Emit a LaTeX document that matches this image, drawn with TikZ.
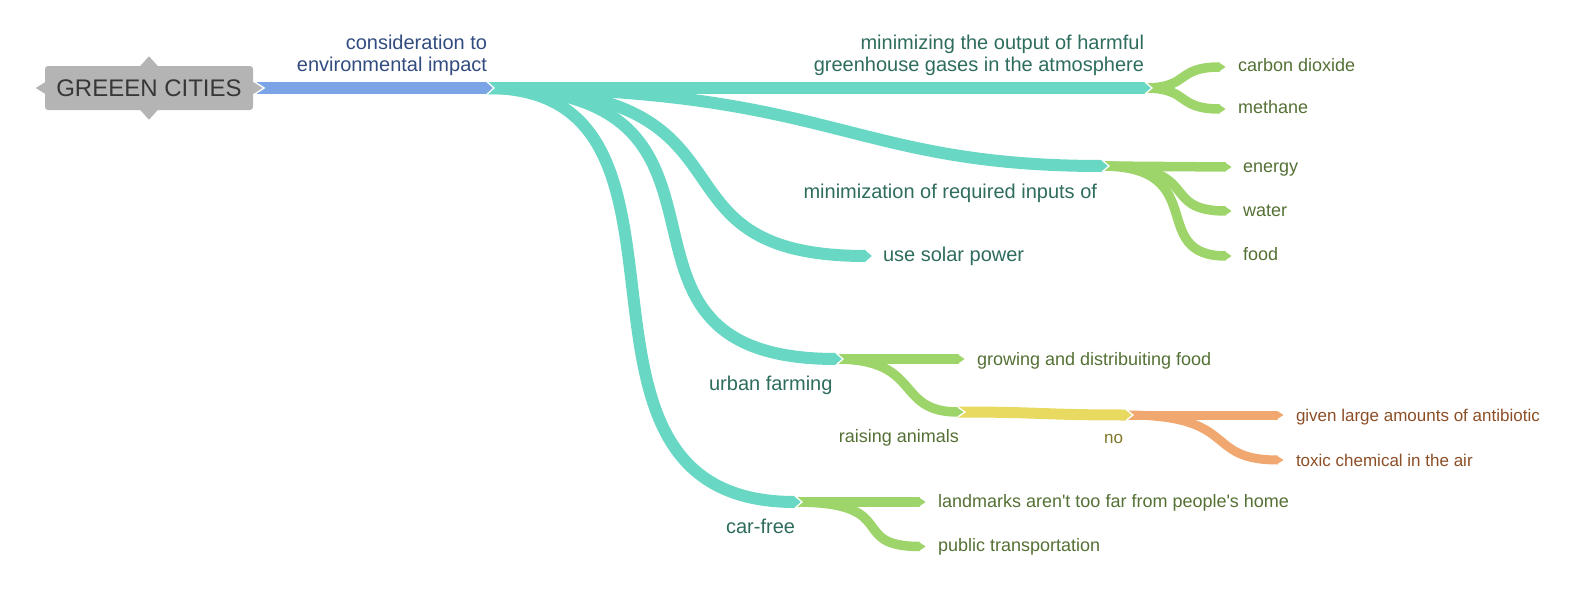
\documentclass[tikz,border=0pt]{standalone}
\usepackage{fontspec}
\setmainfont{Liberation Sans}
\newfontfamily\plainsans{Liberation Sans}
\definecolor{cblue}{RGB}{122,164,230}
\definecolor{cteal}{RGB}{104,216,196}
\definecolor{cgreen}{RGB}{158,213,106}
\definecolor{cyel}{RGB}{232,217,96}
\definecolor{corange}{RGB}{240,168,112}
\definecolor{tblue}{RGB}{50,76,128}
\definecolor{tteal}{RGB}{46,108,94}
\definecolor{tgreen}{RGB}{84,112,52}
\definecolor{tyel}{RGB}{128,118,40}
\definecolor{torange}{RGB}{140,78,38}
\definecolor{rootfill}{RGB}{180,180,180}
\definecolor{roottext}{RGB}{55,55,55}
\newcommand\brtip[3]{%
  \fill[#3] ([shift={(-7,#2/2)}]#1) -- (#1) -- ([shift={(-7,-#2/2)}]#1) -- cycle;
  \draw[white,line width=1.3pt] ([shift={(-7,#2/2)}]#1) -- (#1) -- ([shift={(-7,-#2/2)}]#1);}
\begin{document}
\begin{tikzpicture}[x=1pt,y=-1pt,
  brblue/.style={draw=cblue,line width=12.5pt},
  brteal/.style={draw=cteal,line width=12pt},
  brgreen/.style={draw=cgreen,line width=9.5pt},
  bryel/.style={draw=cyel,line width=11pt},
  brorange/.style={draw=corange,line width=9pt},
  lab/.style={inner sep=0pt,outer sep=0pt},
  l20/.style={lab,font=\fontsize{20}{22.4}\selectfont},
  l18/.style={lab,font=\fontsize{18}{21}\selectfont},
  l17/.style={lab,font=\fontsize{17}{20}\selectfont}]
\useasboundingbox (0,0) rectangle (1580,605);

% root
\node[fill=rootfill,rounded corners=3pt,minimum width=208pt,minimum height=44pt,
      inner sep=0pt,text=roottext,font=\fontsize{24}{28}\selectfont] (root) at (149,88) {GREEEN CITIES};
\fill[rootfill] ([xshift=-9pt,yshift=-0.5pt]root.north) -- ([yshift=9.5pt]root.north) -- ([xshift=9pt,yshift=-0.5pt]root.north) -- cycle;
\fill[rootfill] ([xshift=-9pt,yshift=0.5pt]root.south) -- ([yshift=-9.5pt]root.south) -- ([xshift=9pt,yshift=0.5pt]root.south) -- cycle;
\fill[rootfill] ([xshift=0.5pt,yshift=6pt]root.west) -- ([xshift=-9pt]root.west) -- ([xshift=0.5pt,yshift=-6pt]root.west) -- cycle;

% branch end points (tip apexes)
\coordinate (env) at (494,88);
\coordinate (ghg) at (1152,88);
\coordinate (inp) at (1109,166);
\coordinate (sol) at (873,256);
\coordinate (farm) at (843,359);
\coordinate (car) at (802,502);
\coordinate (co2) at (1227,67);
\coordinate (meth) at (1227,109);
\coordinate (ener) at (1233,167);
\coordinate (wat) at (1233,211);
\coordinate (food) at (1233,256);
\coordinate (grow) at (966,359);
\coordinate (raise) at (965,412);
\coordinate (no) at (1133,415);
\coordinate (anti) at (1285,415);
\coordinate (tox) at (1285,460);
\coordinate (land) at (927,502);
\coordinate (pub) at (927,546.5);

% lines
\draw[brblue] (root.east) -- ([xshift=-7pt]env);
\fill[rootfill] ([xshift=-0.5pt,yshift=7pt]root.east) -- ([xshift=11pt]root.east) -- ([xshift=-0.5pt,yshift=-7pt]root.east) -- cycle;
\draw[white,line width=1.3pt] (root.east) ++(0,7pt) -- ([xshift=11pt]root.east) -- ([yshift=-7pt]root.east);

\draw[brteal] ([xshift=-7pt]env) -- ([xshift=-7pt]ghg);
\draw[brteal] ([xshift=-7pt]env) .. controls +(350,0) and +(-256,0) .. ([xshift=-7pt]inp);
\draw[brteal] ([xshift=-7pt]env) .. controls +(290,0) and +(-233,0) .. ([xshift=-7pt]sol);
\draw[brteal] ([xshift=-7pt]env) .. controls +(298,0) and +(-270,0) .. ([xshift=-7pt]farm);
\draw[brteal] ([xshift=-7pt]env) .. controls +(248,0) and +(-269,0) .. ([xshift=-7pt]car);

\draw[brgreen] ([xshift=-7pt]ghg) .. controls +(45,0) and +(-45,0) .. ([xshift=-7pt]co2);
\draw[brgreen] ([xshift=-7pt]ghg) .. controls +(45,0) and +(-45,0) .. ([xshift=-7pt]meth);
\draw[brgreen] ([xshift=-7pt]inp) .. controls +(62,0) and +(-62,0) .. ([xshift=-7pt]ener);
\draw[brgreen] ([xshift=-7pt]inp) .. controls +(103,0) and +(-69,0) .. ([xshift=-7pt]wat);
\draw[brgreen] ([xshift=-7pt]inp) .. controls +(110,0) and +(-80,0) .. ([xshift=-7pt]food);
\draw[brgreen] ([xshift=-7pt]farm) -- ([xshift=-7pt]grow);
\draw[brgreen] ([xshift=-7pt]farm) .. controls +(87,0) and +(-64,0) .. ([xshift=-7pt]raise);
\draw[brgreen] ([xshift=-7pt]car) -- ([xshift=-7pt]land);
\draw[brgreen] ([xshift=-7pt]car) .. controls +(108,0) and +(-74,0) .. ([xshift=-7pt]pub);

\draw[bryel] ([xshift=-7pt]raise) .. controls +(84,0) and +(-84,0) .. ([xshift=-7pt]no);

\draw[brorange] ([xshift=-7pt]no) -- ([xshift=-7pt]anti);
\draw[brorange] ([xshift=-7pt]no) .. controls +(115,0) and +(-76,0) .. ([xshift=-7pt]tox);

% tips
\brtip{env}{12.5}{cblue}
\brtip{ghg}{12}{cteal}
\brtip{inp}{12}{cteal}
\brtip{sol}{12}{cteal}
\brtip{farm}{12}{cteal}
\brtip{car}{12}{cteal}
\brtip{co2}{9.5}{cgreen}
\brtip{meth}{9.5}{cgreen}
\brtip{ener}{9.5}{cgreen}
\brtip{wat}{9.5}{cgreen}
\brtip{food}{9.5}{cgreen}
\brtip{grow}{9.5}{cgreen}
\brtip{raise}{9.5}{cgreen}
\brtip{land}{9.5}{cgreen}
\brtip{pub}{9.5}{cgreen}
\brtip{no}{11}{cyel}
\brtip{anti}{9}{corange}
\brtip{tox}{9}{corange}

% labels
\node[l20,text=tblue,align=right,anchor=base east] (envtext) at (487,71.5) {consideration to\\environmental impact};
\node[l20,text=tteal,align=right,anchor=base east] (ghgtext) at (1144,71.5) {minimizing the output of harmful\\greenhouse gases in the atmosphere};
\node[l20,text=tteal,anchor=base east] (inptext) at (1097,198.7) {minimization of required inputs of};
\node[l20,text=tteal,anchor=mid west] (soltext) at (883,259) {use solar power};
\node[l20,text=tteal,anchor=mid east] (farmtext) at (832.5,388) {urban farming};
\node[l20,text=tteal,anchor=mid east] (cartext) at (795,530.7) {car-free};
\node[l18,text=tgreen,anchor=mid west] (co2text) at (1238,69) {carbon dioxide};
\node[l18,text=tgreen,anchor=mid west] (methtext) at (1238,111) {methane};
\node[l18,text=tgreen,anchor=mid west] (enertext) at (1243,170) {energy};
\node[l18,text=tgreen,anchor=mid west] (wattext) at (1243,214) {water};
\node[l18,text=tgreen,anchor=mid west] (foodtext) at (1243,257.5) {food};
\node[l18,text=tgreen,anchor=mid west] (growtext) at (977,362.5) {growing and distribuiting food};
\node[l18,text=tgreen,anchor=mid east] (raisetext) at (959,439.5) {raising animals};
\node[l17,text=tyel,anchor=mid east] (notext) at (1123,441) {no};
\node[l17,text=torange,anchor=mid west] (antitext) at (1296,419) {given large amounts of antibiotic};
\node[l17,text=torange,anchor=mid west] (toxtext) at (1296,464) {toxic chemical in the air};
\node[lab,font=\plainsans\fontsize{18}{21}\selectfont,text=tgreen,anchor=mid west] (landtext) at (938,505) {landmarks aren't too far from people's home};
\node[l18,text=tgreen,anchor=mid west] (pubtext) at (938,549) {public transportation};
\end{tikzpicture}
\end{document}
